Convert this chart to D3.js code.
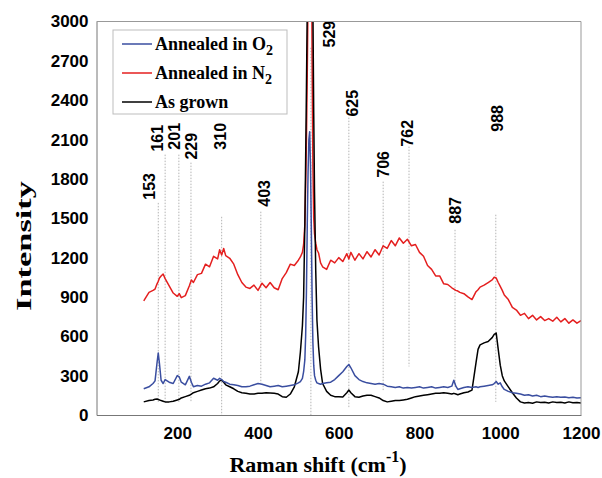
<!DOCTYPE html>
<html>
<head>
<meta charset="utf-8">
<script src="https://cdn.jsdelivr.net/npm/d3@7/dist/d3.min.js"></script>
<style>
  html, body { margin: 0; padding: 0; background: #fff; }
  svg { display: block; }
</style>
</head>
<body>
<svg id="chart" width="602" height="478"></svg>
<script>
// ---------- DATA ----------
const shifts = [
  117,130,140,145,150,153,156,160,165,170,
  180,190,200,205,210,220,230,235,240,250,
  260,270,280,290,300,305,310,315,320,330,
  340,350,360,370,380,390,400,410,420,430,
  440,450,460,470,480,490,500,505,510,513,
  516,518,520,522,524,526,528,530,532,534,
  536,538,540,543,546,550,555,560,570,580,
  590,600,610,620,625,630,640,650,660,670,
  680,690,700,710,720,730,740,750,760,770,
  780,790,800,810,820,830,840,850,860,870,
  880,885,890,895,900,910,920,930,940,945,
  950,960,970,980,985,990,995,1000,1005,1010,
  1020,1030,1040,1050,1060,1070,1080,1090,1100,1110,
  1120,1130,1140,1150,1160,1170,1180,1190,1200
];
const annealedO2 = [
  200,215,240,260,400,473,390,265,240,270,
  250,240,300,290,250,230,295,250,215,225,
  220,235,245,280,265,280,270,255,250,235,
  230,225,215,215,220,230,240,235,225,215,
  220,225,215,220,225,230,245,255,280,330,
  420,600,950,1450,1850,2100,2160,1900,1450,900,
  550,380,300,265,245,240,235,240,245,250,
  270,300,330,370,385,360,300,270,255,245,
  240,235,240,235,220,215,210,215,205,210,
  205,210,215,205,210,215,205,210,215,210,
  220,265,220,195,200,210,215,210,215,210,
  215,220,225,230,240,255,235,245,215,195,
  180,170,165,160,150,155,145,150,140,145,
  140,135,140,135,138,132,135,130,132
];
const annealedN2 = [
  870,935,950,960,1000,1020,1045,1060,1075,1040,
  985,930,905,925,895,910,985,1030,1010,1070,
  1080,1150,1130,1210,1190,1260,1220,1270,1215,1195,
  1150,1070,1010,975,965,990,950,1005,970,1010,
  970,955,1040,1085,1150,1140,1180,1205,1240,1300,
  1450,1750,2100,2600,3200,4500,6000,5800,4000,2700,
  1900,1500,1380,1310,1260,1235,1160,1130,1110,1180,
  1160,1200,1170,1230,1190,1240,1180,1230,1190,1245,
  1205,1260,1220,1290,1270,1330,1290,1350,1310,1340,
  1290,1300,1240,1210,1140,1110,1060,1060,1000,995,
  970,960,950,945,935,925,900,880,940,955,
  975,990,1010,1030,1050,1045,1010,980,950,915,
  880,820,800,760,775,735,760,725,750,720,
  735,715,745,710,735,700,725,700,720
];
const asGrown = [
  100,110,115,120,122,118,115,110,105,100,
  100,105,115,120,130,140,150,160,170,180,
  190,200,205,215,240,260,265,250,230,215,
  200,180,170,165,160,160,165,165,170,168,
  165,160,140,135,160,215,330,480,680,900,
  1450,1950,2500,3100,4300,5200,5600,5500,4800,3900,
  3100,2300,1700,1100,720,520,350,240,180,150,
  140,140,138,170,190,170,140,135,145,150,
  150,140,130,110,100,105,110,110,115,120,
  130,140,145,150,155,160,165,165,170,165,
  160,165,160,155,160,170,175,190,400,500,
  535,550,560,590,615,625,500,380,300,260,
  215,170,130,100,92,95,90,100,95,98,
  92,100,95,98,92,100,94,96,92
];
const seriesNames = ["Annealed in O", "Annealed in N", "As grown"];
const yTickValues = [0,300,600,900,1200,1500,1800,2100,2400,2700,3000];
const xTickValues = [200,400,600,800,1000,1200];

// peak annotations (labels, marker line x, label anchor x/y and line extent in data units)
const peakLabels    = ["153","161","201","229","310","403","529","625","706","762","887","988"];
const peakLineX     = [153,170,204,234,310,407,531,625,710,774,888,989];
const peakLabelX    = [132,150,194,236,308,417,576,635,710,771,888,994];
const peakLabelY    = [1641,2008,2023,1947,2023,1588,2802,2275,1809,2046,1458,2160];
const peakLineTop   = [1617,1985,1985,1924,1511,1550,2800,2267,1779,2046,1412,1527];
const peakLineBot   = [100,100,100,100,0,240,0,60,190,370,215,100];

// ---------- LAYOUT ----------
const svg = d3.select("#chart");
const L = 96.5, R = 581, T = 21.5, B = 415;
const x = d3.scaleLinear().domain([0, 1200]).range([L, R]);
const y = d3.scaleLinear().domain([0, 3000]).range([B, T]);
const numFont = "'Liberation Sans', Arial, sans-serif";
const serifFont = "'Liberation Serif', 'Times New Roman', serif";

svg.append("defs").append("clipPath").attr("id", "plotClip")
  .append("rect").attr("x", L).attr("y", T).attr("width", R - L).attr("height", B - T);

// peak marker lines
const ann = svg.append("g");
peakLabels.forEach((lab, i) => {
  ann.append("line")
    .attr("x1", x(peakLineX[i])).attr("x2", x(peakLineX[i]))
    .attr("y1", y(peakLineTop[i])).attr("y2", y(peakLineBot[i]))
    .attr("stroke", "#b4b4b4").attr("stroke-width", 1)
    .attr("stroke-dasharray", "1.5,1.5");
});

// series lines
const data = shifts.map((s, i) => ({ s, o2: annealedO2[i], n2: annealedN2[i], ag: asGrown[i] }));
const plot = svg.append("g").attr("clip-path", "url(#plotClip)");
const mk = key => d3.line().x(d => x(d.s)).y(d => y(d[key]));
plot.append("path").datum(data).attr("d", mk("n2"))
  .attr("fill", "none").attr("stroke", "#e41f1f").attr("stroke-width", 1.5).attr("stroke-linejoin", "round");
plot.append("path").datum(data).attr("d", mk("ag"))
  .attr("fill", "none").attr("stroke", "#000").attr("stroke-width", 1.5).attr("stroke-linejoin", "round");
plot.append("path").datum(data).attr("d", mk("o2"))
  .attr("fill", "none").attr("stroke", "#3a4ea0").attr("stroke-width", 1.5).attr("stroke-linejoin", "round");

// frame
svg.append("line").attr("x1", L).attr("x2", R).attr("y1", T).attr("y2", T).attr("stroke", "#999");
svg.append("line").attr("x1", R).attr("x2", R).attr("y1", T).attr("y2", B).attr("stroke", "#999");

// axes
const xAxis = d3.axisBottom(x).tickValues(xTickValues).tickSize(0).tickPadding(12).tickFormat(d3.format("d"));
const gx = svg.append("g").attr("transform", `translate(0,${B})`).call(xAxis);
gx.select(".domain").attr("stroke", "#777");
gx.selectAll("text").attr("font-family", numFont).attr("font-weight", "bold")
  .attr("font-size", 17).attr("fill", "#000");

const yAxis = d3.axisLeft(y).tickValues(yTickValues).tickSize(0).tickPadding(8).tickFormat(d3.format("d"));
const gy = svg.append("g").attr("transform", `translate(${L},0)`).call(yAxis);
gy.select(".domain").attr("stroke", "#777");
gy.selectAll("text").attr("font-family", numFont).attr("font-weight", "bold")
  .attr("font-size", 17).attr("fill", "#000");

// peak labels
peakLabels.forEach((lab, i) => {
  ann.append("text")
    .attr("transform", `translate(${x(peakLabelX[i])},${y(peakLabelY[i])}) rotate(-90)`)
    .attr("dy", "0.35em")
    .attr("font-family", numFont).attr("font-weight", "bold").attr("font-size", 16)
    .attr("fill", "#000").text(lab);
});

// axis titles
const xt = svg.append("text").attr("x", 318).attr("y", 472).attr("text-anchor", "middle")
  .attr("font-family", serifFont).attr("font-weight", "bold").attr("font-size", 22).attr("fill", "#000");
xt.append("tspan").text("Raman shift (cm");
xt.append("tspan").attr("dy", -10).attr("font-size", 16).text("-1");
xt.append("tspan").attr("dy", 10).text(")");

svg.append("text")
  .attr("transform", "translate(31,246) rotate(-90)")
  .attr("text-anchor", "middle")
  .attr("font-family", serifFont).attr("font-weight", "bold").attr("font-size", 21)
  .attr("textLength", 130).attr("lengthAdjust", "spacingAndGlyphs")
  .attr("fill", "#000").text("Intensity");

// legend
const lg = svg.append("g");
lg.append("rect").attr("x", 113).attr("y", 30).attr("width", 174).attr("height", 84)
  .attr("fill", "#fff").attr("stroke", "#bdbdbd").attr("stroke-width", 1);
const legColors = ["#3a4ea0", "#e41f1f", "#000"];
const legSub = ["2", "2", null];
const rowY = [50, 79, 108];
seriesNames.forEach((name, i) => {
  lg.append("line").attr("x1", 122).attr("x2", 152).attr("y1", rowY[i] - 6).attr("y2", rowY[i] - 6)
    .attr("stroke", legColors[i]).attr("stroke-width", 1.5);
  const t = lg.append("text").attr("x", 155).attr("y", rowY[i])
    .attr("font-family", serifFont).attr("font-weight", "bold").attr("font-size", 18).attr("fill", "#000");
  t.append("tspan").text(name);
  if (legSub[i]) t.append("tspan").attr("dy", 5).attr("font-size", 14).text(legSub[i]);
});
</script>
</body>
</html>
